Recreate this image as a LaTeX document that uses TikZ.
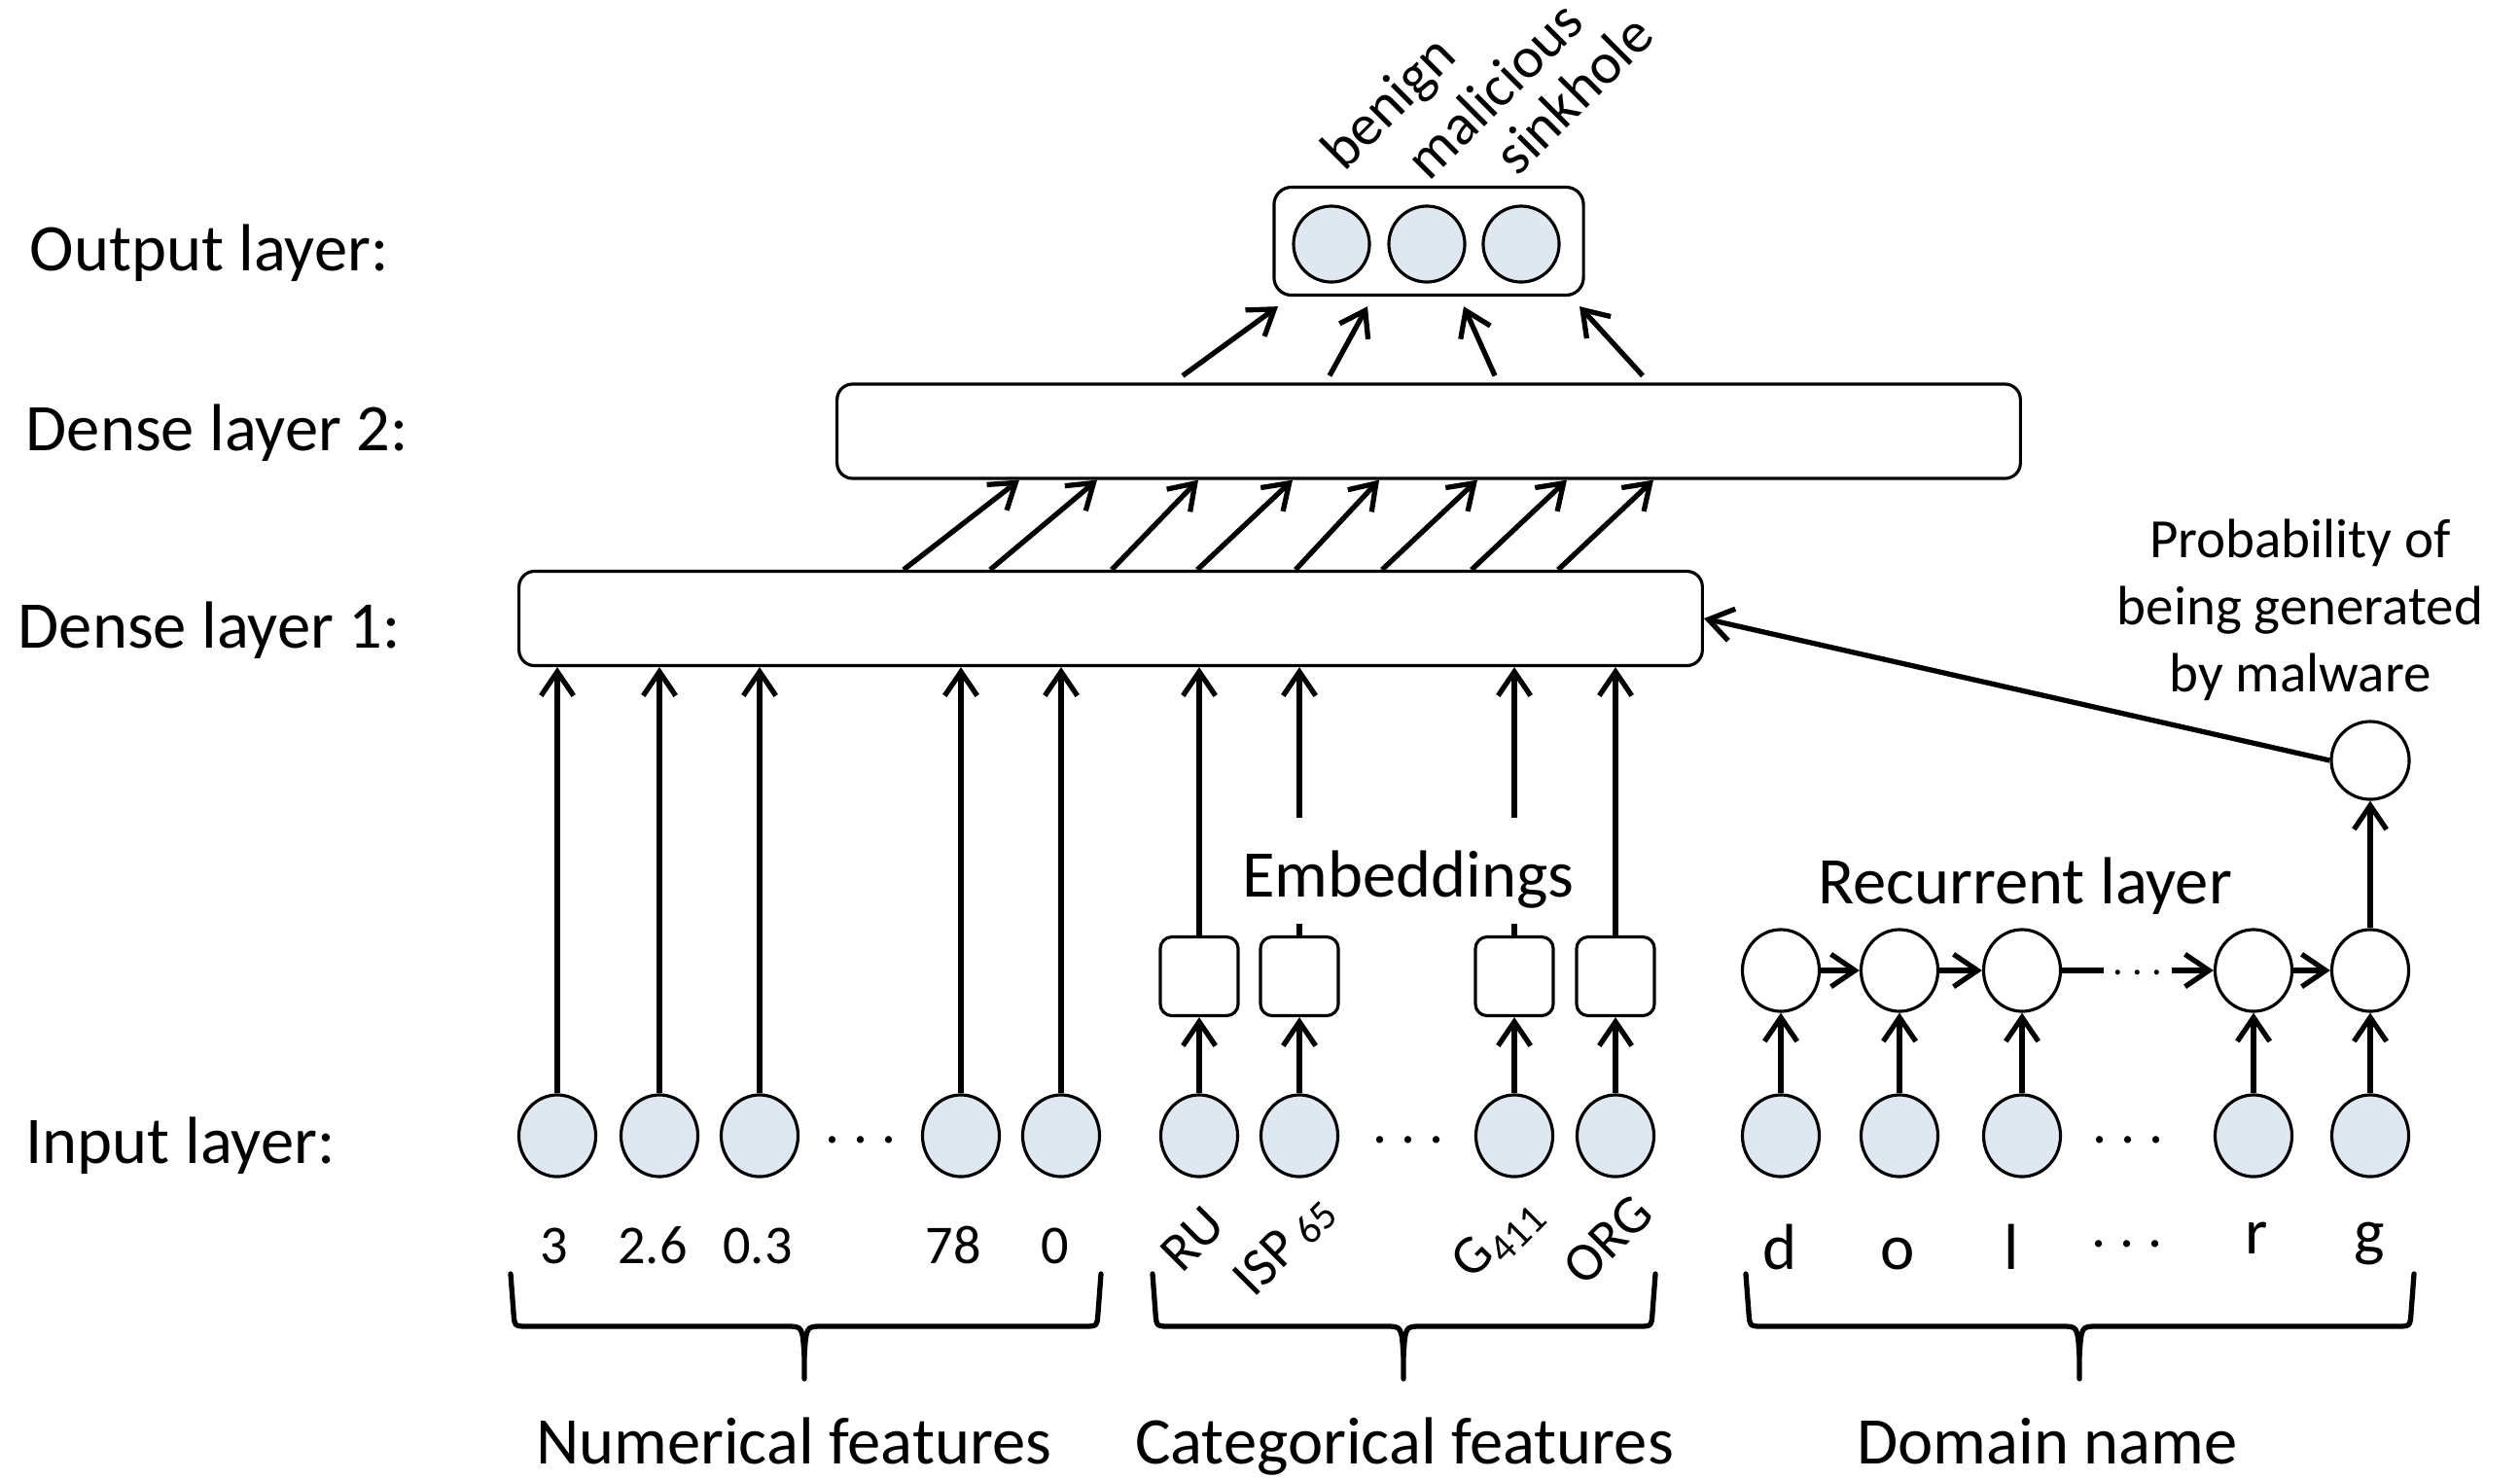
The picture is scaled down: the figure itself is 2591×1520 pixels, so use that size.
\documentclass[tikz,border=0pt]{standalone}
\usepackage{fontspec}
\setmainfont{Carlito}
\usetikzlibrary{arrows.meta,calc,shapes.geometric}
\definecolor{inblue}{HTML}{DFE7F1}
\begin{document}
\begin{tikzpicture}[x=0.01cm,y=-0.01cm,
  arr/.style={line width=1.5pt,-{Straight Barb[length=7pt,width=9.5pt]}},
  plain/.style={line width=1.5pt},
  shp/.style={draw,line width=0.9pt},
  dense/.style={shp,rounded corners=0.16cm,minimum width=12.16cm,minimum height=0.97cm,inner sep=0},
  innode/.style={shp,ellipse,minimum width=0.79cm,minimum height=0.84cm,inner sep=0,fill=inblue},
  recnode/.style={shp,ellipse,minimum width=0.79cm,minimum height=0.84cm,inner sep=0,fill=white},
  outnode/.style={shp,circle,minimum size=0.78cm,inner sep=0,fill=inblue},
  embox/.style={shp,rounded corners=0.12cm,minimum width=0.8cm,minimum height=0.81cm,inner sep=0},
  big/.style={font=\fontsize{19.5}{23}\selectfont,inner sep=0},
  let/.style={font=\fontsize{19}{23}\selectfont,inner sep=0,anchor=base},
  num/.style={font=\fontsize{16}{19}\selectfont,inner sep=0,anchor=base},
  cat/.style={font=\fontsize{16}{19}\selectfont,inner sep=0,rotate=45},
  olab/.style={font=\fontsize{17}{20}\selectfont,inner sep=0,rotate=45,anchor=base west},
  prob/.style={font=\fontsize{16.2}{19.5}\selectfont,inner sep=0,anchor=base},
  dots/.style={font=\fontsize{17}{20}\selectfont,inner sep=0,anchor=base},
  brace/.style={line width=1.5pt,line join=round,line cap=round},
]
\useasboundingbox (0,0) rectangle (2591,1520);

% layer labels
\node[big,anchor=base west] (lo) at (30,278) {Output layer:};
\node[big,anchor=base west] (l2) at (26,463) {Dense layer 2:};
\node[big,anchor=base west] (l1) at (18,666) {Dense layer 1:};
\node[big,anchor=base west] (li) at (26,1196) {Input layer:};

% dense layers and output
\node[dense] (d1) at (1142,636) {};
\node[dense] (d2) at (1469,443.5) {};
\node[shp,rounded corners=0.18cm,minimum width=3.18cm,minimum height=1.11cm,inner sep=0] (ob) at (1469,248) {};
\node[outnode] (o1) at (1369,251) {};
\node[outnode] (o2) at (1467,251) {};
\node[outnode] (o3) at (1564,251) {};
\node[olab] (tb) at (1382,178) {benign};
\node[olab] (tm) at (1469,188) {malicious};
\node[olab] (ts) at (1560,183) {sinkhole};

% arrows dense1 -> dense2
\foreach \a/\b in {929/1048,1018/1128,1143/1232,1231/1329,1332/1418,1421/1519,1513/1611,1602/1700}
  \draw[arr] (\a,0 |- d1.north) -- (\b,0 |- d2.south);
% arrows dense2 -> output
\foreach \a/\b in {1216/1314,1367/1406,1537/1505,1689/1624}
  \draw[arr] ($(\a,0 |- d2.north)+(0,-7)$) -- ($(\b,0 |- ob.south)+(0,10)$);

% numerical inputs
\foreach \i/\x in {1/573,2/678,3/781,4/988,5/1091}
  \node[innode] (n\i) at (\x,1168) {};
\node[dots] (ndots) at (885,1175) {.\ .\ .};
\foreach \i in {1,...,5}
  \draw[arr] (n\i) -- (n\i |- d1.south);
\node[num] (v1) at (570,1299) {3};
\node[num] (v2) at (671,1299) {2.6};
\node[num] (v3) at (779,1299) {0.3};
\node[num] (v4) at (980,1299) {78};
\node[num] (v5) at (1085,1299) {0};

% categorical inputs
\foreach \i/\x in {1/1233,2/1336,3/1557,4/1661}
  {\node[innode] (c\i) at (\x,1168) {};
   \node[embox] (e\i) at (\x,1004) {};
   \draw[arr] (c\i) -- (e\i);
   \draw[arr] (e\i) -- (e\i |- d1.south);}
\node[dots] (cdots) at (1448,1175) {.\ .\ .};
\node[big,anchor=base,fill=white,text height=23pt,text depth=8pt,inner xsep=3pt] (emb) at (1448,922) {Embeddings};
\node[cat] (k1) at (1226,1274) {RU};
\node[cat] (k2) at (1321,1281) {ISP\,\raisebox{-0.15ex}{\fontsize{12}{14}\selectfont 65}};
\node[cat] (k3) at (1540,1274) {G\raisebox{-0.45ex}{\fontsize{12}{14}\selectfont 411}};
\node[cat] (k4) at (1653,1275) {ORG};

% domain name
\foreach \i/\x in {1/1831,2/1953,3/2079,4/2317,5/2437}
  {\node[innode] (s\i) at (\x,1168) {};
   \node[recnode] (r\i) at (\x,998) {};
   \draw[arr] (s\i) -- (r\i);}
\node[dots] (sdots) at (2188,1175) {.\ .\ .};
\draw[arr] (r1) -- (r2);
\draw[arr] (r2) -- (r3);
\coordinate (dl) at (2163,998);
\coordinate (dr) at (2233,998);
\draw[plain] (r3) -- (dl);
\node[font=\fontsize{12}{14}\selectfont,inner sep=0,anchor=base] (rdots) at (2198,1002) {.\ .\ .};
\draw[arr] (dr) -- (r4);
\draw[arr] (r4) -- (r5);
\node[big,anchor=base] (rec) at (2082,929) {Recurrent layer};
\node[shp,circle,minimum size=0.8cm,inner sep=0,fill=white] (p) at (2437,782) {};
\draw[arr] (r5) -- (p);
\draw[arr] (p.west) -- (d1.east);
\node[prob] (p1) at (2365,573) {Probability of};
\node[prob] (p2) at (2365,642) {being generated};
\node[prob] (p3) at (2365,711) {by malware};
\node[let] (t1) at (1830,1305) {d};
\node[let] (t2) at (1951,1305) {o};
\node[let] (t3) at (2068,1305) {l};
\node[dots] (tdots) at (2187,1282) {.\ .\ .};
\node[let] (t4) at (2320,1289) {r};
\node[let] (t5) at (2436,1289) {g};

% braces
\def\T{1310}\def\H{1364}\def\P{1418}
\foreach \L/\M/\R in {525/827/1132,1185/1443/1702,1795/2138/2482}{
  \draw[brace] (\L,\T) -- (\L+3,\H-14) .. controls (\L+4,\H) .. (\L+18,\H) -- (\M-18,\H) .. controls (\M-2,\H) .. (\M,\H+30) -- (\M,\P);
  \draw[brace] (\R,\T) -- (\R-3,\H-14) .. controls (\R-4,\H) .. (\R-18,\H) -- (\M+18,\H) .. controls (\M+2,\H) .. (\M,\H+30);
}
\node[big,anchor=base] (bn) at (816,1505) {Numerical features};
\node[big,anchor=base] (bc) at (1444,1505) {Categorical features};
\node[big,anchor=base] (bd) at (2105,1505) {Domain name};
\end{tikzpicture}
\end{document}
